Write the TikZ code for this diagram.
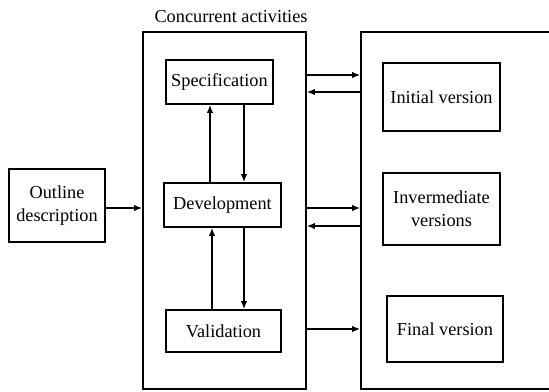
\documentclass[tikz,border=0pt]{standalone}
\usepackage{fontspec}
\setmainfont{Liberation Serif}
\usetikzlibrary{arrows.meta}

\begin{document}
\begin{tikzpicture}
        [x=1pt,y=-1pt,line width=1.6pt,>={Latex[length=8pt,width=6.5pt]},
        every node/.style={font=\fontsize{18.3}{23}\selectfont},
        box/.style={draw,rectangle,inner sep=0pt,align=center}]
        \useasboundingbox (0,0) rectangle (549,391);
        \node[box,minimum width=163,minimum height=357] (conc) at (224.5,210.5) {};
        \node[box,minimum width=200,minimum height=357] (vers) at (461,210.5) {};
        \node (title) at (231,17) {Concurrent activities};

        \node[box,minimum width=107,minimum height=44] (spec) at (219.5,82) {Specification};
        \node[box,minimum width=117,minimum height=44] (dev) at (222.5,205) {Development};
        \node[box,minimum width=115,minimum height=42] (val) at (223.5,331) {Validation};
        \node[box,minimum width=96,minimum height=73] (out) at (57,205.5) {Outline\\description};

        \node[box,minimum width=117,minimum height=68] (init) at (441.5,97) {Initial version};
        \node[box,minimum width=117,minimum height=72] (inter) at (441.5,209) {Invermediate\\versions};
        \node[box,minimum width=116,minimum height=66] (fin) at (445,329) {Final version};

        \path [->] (dev.north -| 210,0) edge (spec.south -| 210,0);
        \path [->] (spec.south -| 244,0) edge (dev.north -| 244,0);
        \path [->] (val.north -| 212,0) edge (dev.south -| 212,0);
        \path [->] (dev.south -| 244,0) edge (val.north -| 244,0);

        \path [->] (out.east |- 0,208) edge (conc.west |- 0,208);

        \path [->] (conc.east |- 0,75) edge (vers.west |- 0,75);
        \path [<-] (conc.east |- 0,92) edge (vers.west |- 0,92);
        \path [->] (conc.east |- 0,208) edge (vers.west |- 0,208);
        \path [<-] (conc.east |- 0,226) edge (vers.west |- 0,226);
        \path [->] (conc.east |- 0,329) edge (vers.west |- 0,329);
    \end{tikzpicture}
\end{document}
